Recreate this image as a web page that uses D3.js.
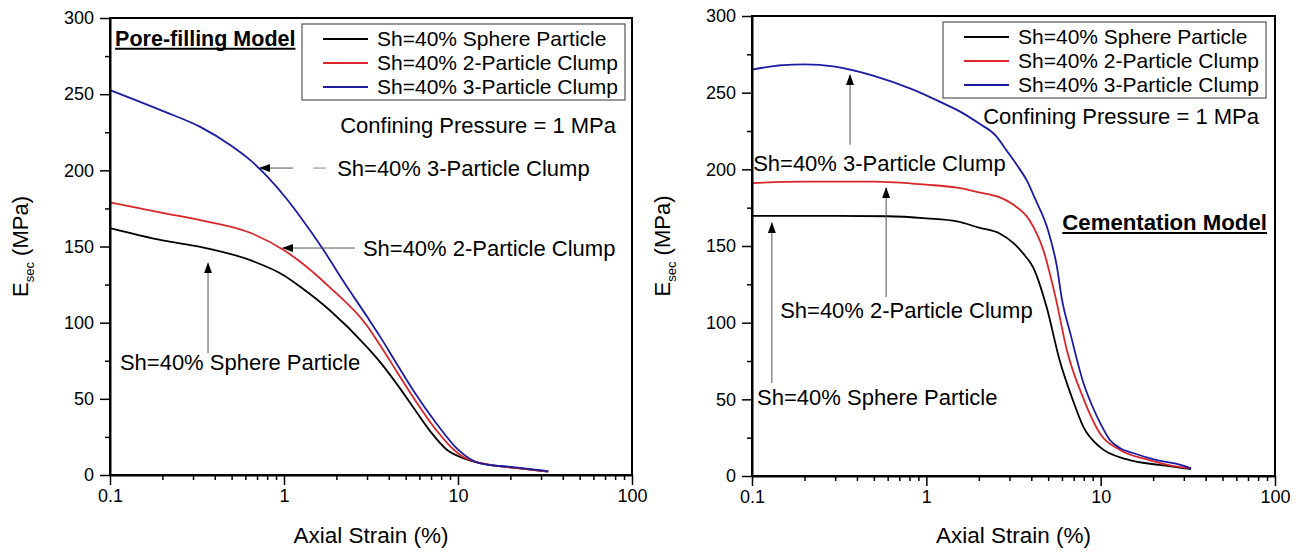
<!DOCTYPE html>
<html>
<head>
<meta charset="utf-8">
<script src="https://cdn.jsdelivr.net/npm/d3@7"></script>
<style>
  body { margin: 0; background: #fff; }
  svg { font-family: "Liberation Sans", Arial, sans-serif; }
</style>
</head>
<body>
<svg id="chart" width="1303" height="553"></svg>
<script>
// ---- data (axial strain %, E_sec MPa) ----
const poreSphereStrain = [0.1, 0.2, 0.33, 0.64, 1.0, 1.24, 1.84, 3.0, 3.56, 4.5, 5.5, 7.0, 8.6, 10.7, 13.4, 20, 33];
const poreSphereE      = [162, 154, 149.8, 141, 131, 123.6, 108, 84, 74.3, 59, 44.8, 28, 16.7, 11, 7.8, 5, 2.3];
const pore2Strain = [0.1, 0.2, 0.33, 0.64, 1.0, 1.24, 1.84, 3.0, 3.56, 4.5, 5.5, 7.5, 9.0, 10.7, 15.3, 22, 33];
const pore2E      = [179, 172, 167.3, 159, 147.5, 140, 123, 98, 85.3, 67, 51.4, 29.5, 19, 12, 6.6, 4.5, 2.3];
const pore3Strain = [0.1, 0.2, 0.33, 0.5, 0.64, 0.8, 1.04, 1.24, 1.68, 2.2, 3.0, 3.56, 4.5, 5.5, 7.5, 10, 13.4, 20.7, 33];
const pore3E      = [252.6, 239, 228.5, 216, 206.7, 196, 181, 169.5, 148, 127, 104, 91, 72, 56, 34, 16.7, 7.7, 5.1, 2.5];

const cemSphereStrain = [0.1, 0.3, 0.6, 1.0, 1.5, 2.0, 2.65, 3.15, 3.6, 4.1, 4.9, 5.8, 6.9, 8.0, 10, 14, 21.7, 33];
const cemSphereE      = [169.6, 169.6, 169.4, 168, 166, 162, 158, 152, 145, 136, 110, 76, 50, 31.5, 18.5, 11, 7.2, 4.5];
const cem2Strain = [0.1, 0.2, 0.5, 1.0, 1.5, 2.0, 2.6, 3.15, 3.9, 4.7, 5.5, 6.4, 8.0, 10, 12.9, 19, 25, 33];
const cem2E      = [191, 192, 192, 190, 188, 185, 182, 177, 167, 147, 117, 82, 50, 27, 17, 10.4, 7, 5];
const cem3Strain = [0.1, 0.15, 0.2, 0.3, 0.5, 0.84, 1.2, 1.6, 2.0, 2.5, 2.9, 3.3, 3.8, 4.2, 5.0, 5.6, 6.0, 6.7, 8.0, 9.0, 10, 11.3, 13, 15.3, 21, 27, 33];
const cem3E      = [265, 268, 268.5, 267, 261, 252, 244, 237, 230, 222, 212, 203, 192, 181, 160, 137, 115, 93, 60, 45, 34, 23.5, 18, 15, 10.4, 8, 5];

const seriesNames = ["Sh=40% Sphere Particle", "Sh=40% 2-Particle Clump", "Sh=40% 3-Particle Clump"];
const seriesColors = ["#000000", "#d8262b", "#1c1ca3"];
const xTicks = [0.1, 1, 10, 100];
const xTickLabels = ["0.1", "1", "10", "100"];
const yTicks = [0, 50, 100, 150, 200, 250, 300];
const yMinorTicks = [25, 75, 125, 175, 225, 275];

const zip = (xs, ys) => xs.map((v, i) => [v, ys[i]]);

const svg = d3.select("#chart");

// arrowhead
svg.append("defs").append("marker")
  .attr("id", "arrow")
  .attr("markerUnits", "userSpaceOnUse")
  .attr("markerWidth", 11).attr("markerHeight", 8)
  .attr("refX", 10).attr("refY", 4)
  .attr("orient", "auto")
  .append("path").attr("d", "M0,0 L11,4 L0,8 Z").attr("fill", "#000");

function drawPanel(p) {
  const x = d3.scaleLog().domain([0.1, 100]).range([p.left, p.right]);
  const y = d3.scaleLinear().domain([0, 300]).range([p.bottom, p.top]);
  const g = svg.append("g");

  // frame
  g.append("rect")
    .attr("x", p.left).attr("y", p.top)
    .attr("width", p.right - p.left).attr("height", p.bottom - p.top)
    .attr("fill", "none").attr("stroke", "#000").attr("stroke-width", 2);

  // curves
  const line = d3.line().x(d => x(d[0])).y(d => y(d[1])).curve(d3.curveMonotoneX);
  p.series.forEach((s, i) => {
    g.append("path").datum(s)
      .attr("d", line)
      .attr("fill", "none")
      .attr("stroke", seriesColors[i])
      .attr("stroke-width", 1.8);
  });

  // axes
  const minorX = [];
  [0.1, 1, 10].forEach(dec => { for (let k = 2; k <= 9; k++) minorX.push(dec * k); });

  g.append("g").attr("transform", `translate(0,${p.bottom})`)
    .call(d3.axisBottom(x).tickValues(xTicks).tickFormat((d, i) => xTickLabels[i])
      .tickSize(10).tickSizeOuter(0).tickPadding(4));
  g.append("g").attr("transform", `translate(0,${p.bottom})`)
    .call(d3.axisBottom(x).tickValues(minorX).tickFormat("").tickSize(5))
    .select(".domain").remove();

  g.append("g").attr("transform", `translate(${p.left},0)`)
    .call(d3.axisLeft(y).tickValues(yTicks).tickSize(10).tickSizeOuter(0).tickPadding(6));
  g.append("g").attr("transform", `translate(${p.left},0)`)
    .call(d3.axisLeft(y).tickValues(yMinorTicks).tickFormat("").tickSize(5))
    .select(".domain").remove();

  g.selectAll(".tick line").attr("stroke", "#000").attr("stroke-width", 1.5);
  g.selectAll(".domain").attr("stroke", "#000").attr("stroke-width", 2);
  g.selectAll(".tick text").attr("font-size", 18).attr("fill", "#000")
    .attr("font-family", "Liberation Sans, Arial, sans-serif");

  // axis titles
  g.append("text")
    .attr("x", (p.left + p.right) / 2).attr("y", 543)
    .attr("text-anchor", "middle").attr("font-size", 22.5)
    .text("Axial Strain (%)");

  const yl = g.append("text")
    .attr("transform", `translate(${p.left - 82},${(p.top + p.bottom) / 2}) rotate(-90)`)
    .attr("text-anchor", "middle").attr("font-size", 22);
  yl.append("tspan").text("E");
  yl.append("tspan").attr("font-size", 13).attr("dy", 6).text("sec");
  yl.append("tspan").attr("dy", -6).text(" (MPa)");

  // legend
  const lg = g.append("g").attr("transform", `translate(${p.left + p.legendDx},${p.top + 6})`);
  lg.append("rect").attr("width", 323).attr("height", 76)
    .attr("fill", "#fff").attr("stroke", "#555").attr("stroke-width", 1.2);
  seriesNames.forEach((name, i) => {
    const cy = 15 + i * 24;
    lg.append("line").attr("x1", 21).attr("x2", 66).attr("y1", cy).attr("y2", cy)
      .attr("stroke", seriesColors[i]).attr("stroke-width", 1.8);
    lg.append("text").attr("x", 75).attr("y", cy + 7).attr("font-size", 21).text(name);
  });

  // confining pressure note
  g.append("text")
    .attr("x", p.right - 16).attr("y", y(p.confiningE) + 8)
    .attr("text-anchor", "end").attr("font-size", 22)
    .text("Confining Pressure = 1 MPa");

  // model title, underlined
  const t = g.append("text")
    .attr("x", x(p.titleAt[0])).attr("y", y(p.titleAt[1]) + 8)
    .attr("text-anchor", p.titleAnchor)
    .attr("font-size", p.titleSize).attr("font-weight", "bold")
    .text(p.title);
  const bb = t.node().getBBox();
  g.append("line")
    .attr("x1", bb.x).attr("x2", bb.x + bb.width)
    .attr("y1", y(p.titleAt[1]) + 11).attr("y2", y(p.titleAt[1]) + 11)
    .attr("stroke", "#000").attr("stroke-width", 2);

  // annotations with arrows
  p.notes.forEach(n => {
    g.append("line")
      .attr("x1", x(n.from[0])).attr("y1", y(n.from[1]))
      .attr("x2", x(n.to[0])).attr("y2", y(n.to[1]))
      .attr("stroke", "#555").attr("stroke-width", 1)
      .attr("marker-end", "url(#arrow)");
    if (n.dash) {
      g.append("line")
        .attr("x1", x(n.dash[0])).attr("x2", x(n.dash[1]))
        .attr("y1", y(n.to[1])).attr("y2", y(n.to[1]))
        .attr("stroke", "#888").attr("stroke-width", 1);
    }
    g.append("text")
      .attr("x", x(n.textAt[0])).attr("y", y(n.textAt[1]) + 8)
      .attr("font-size", 22)
      .text(n.text);
  });
}

drawPanel({
  left: 110, right: 632, top: 18, bottom: 475,
  series: [zip(poreSphereStrain, poreSphereE), zip(pore2Strain, pore2E), zip(pore3Strain, pore3E)],
  legendDx: 192,
  confiningE: 230,
  title: "Pore-filling Model", titleAt: [0.107, 287], titleAnchor: "start", titleSize: 21.5,
  notes: [
    { text: seriesNames[2], from: [1.127, 201.5], to: [0.728, 201.5], dash: [1.47, 1.74], textAt: [2.02, 201.5] },
    { text: seriesNames[1], from: [2.56, 149], to: [0.987, 149], textAt: [2.84, 149] },
    { text: seriesNames[0], from: [0.366, 80], to: [0.366, 139], textAt: [0.114, 74] }
  ]
});

drawPanel({
  left: 752, right: 1275, top: 16, bottom: 476,
  series: [zip(cemSphereStrain, cemSphereE), zip(cem2Strain, cem2E), zip(cem3Strain, cem3E)],
  legendDx: 191,
  confiningE: 235,
  title: "Cementation Model", titleAt: [89.9, 165.6], titleAnchor: "end", titleSize: 22.2,
  notes: [
    { text: seriesNames[2], from: [0.365, 216], to: [0.365, 261.5], textAt: [0.1015, 204] },
    { text: seriesNames[1], from: [0.588, 116.7], to: [0.588, 187.8], textAt: [0.145, 108.3] },
    { text: seriesNames[0], from: [0.13, 60.7], to: [0.13, 165], textAt: [0.107, 51.5] }
  ]
});
</script>
</body>
</html>
